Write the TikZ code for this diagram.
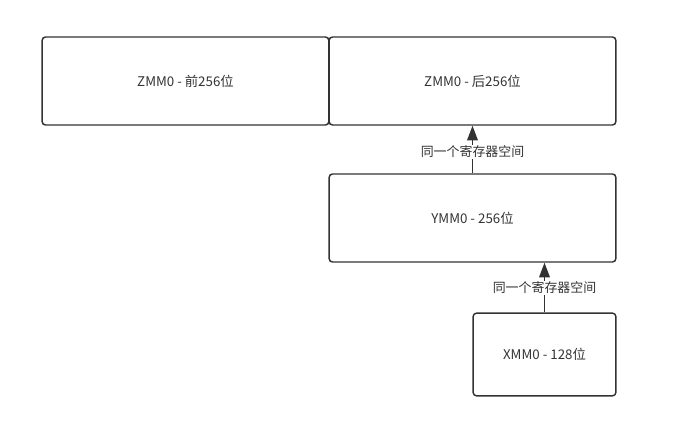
\documentclass[tikz,border=0pt]{standalone}
\usepackage{fontspec}
\setmainfont{Noto Sans CJK SC}
\usepackage{tikz}
\usetikzlibrary{arrows.meta, positioning}
\definecolor{linegray}{RGB}{51, 51, 51}

\begin{document}
\begin{tikzpicture}[x=0.75pt, y=-0.75pt,
  regbox/.style={draw=linegray, line width=1.1pt, rounded corners=2.5pt, inner sep=0pt, text=linegray, font=\fontsize{10}{12}\selectfont},
  samespace/.style={fill=white, inner sep=1pt, text=linegray, font=\fontsize{9.7}{11}\selectfont},
  regarrow/.style={draw=linegray, line width=1.1pt, -{Triangle[length=11pt, width=8pt]}}]
  \useasboundingbox (0, 0) rectangle (683, 421);

  % ZMM0 halves
  \node[regbox, minimum width=215pt, minimum height=66pt] (zmmlow) at (185.5, 81) {ZMM0 - 前256位};
  \node[regbox, minimum width=215pt, minimum height=66pt] (zmmhigh) at (472.5, 81) {ZMM0 - 后256位};

  % YMM0
  \node[regbox, minimum width=215pt, minimum height=66pt] (ymm) at (472.5, 218) {YMM0 - 256位};

  % XMM0
  \node[regbox, minimum width=107pt, minimum height=62pt] (xmm) at (544.5, 354.5) {XMM0 - 128位};

  % Shared register space
  \draw[regarrow] (ymm.north) -- (zmmhigh.south);
  \node[samespace] (lbl1) at (472.5, 152) {同一个寄存器空间};
  \draw[regarrow] (xmm.north) -- (xmm.north |- ymm.south);
  \node[samespace] (lbl2) at (544.5, 288) {同一个寄存器空间};
\end{tikzpicture}
\end{document}
